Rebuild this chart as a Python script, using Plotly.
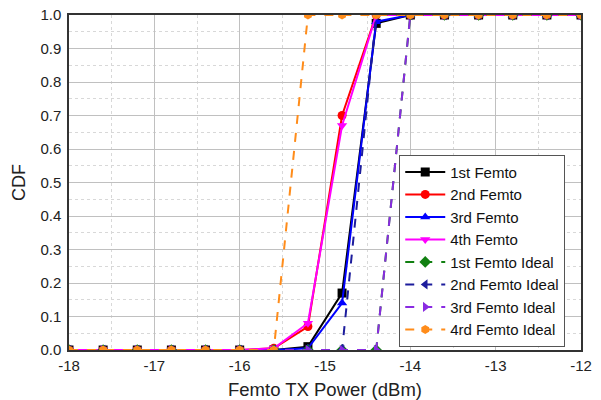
import plotly.graph_objects as go

x_power = [-18.0, -17.6, -17.2, -16.8, -16.4, -16.0, -15.6, -15.2, -14.8, -14.4,
           -14.0, -13.6, -13.2, -12.8, -12.4, -12.0]

femto1 = [0, 0, 0, 0, 0, 0, 0, 0.01, 0.17, 0.975, 1, 1, 1, 1, 1, 1]
femto2 = [0, 0, 0, 0, 0, 0, 0.005, 0.07, 0.70, 1, 1, 1, 1, 1, 1, 1]
femto3 = [0, 0, 0, 0, 0, 0, 0, 0.005, 0.14, 0.98, 1, 1, 1, 1, 1, 1]
femto4 = [0, 0, 0, 0, 0, 0, 0.005, 0.08, 0.67, 1, 1, 1, 1, 1, 1, 1]
femto1_ideal = [0, 0, 0, 0, 0, 0, 0, 0, 0, 0, 1, 1, 1, 1, 1, 1]
femto2_ideal = [0, 0, 0, 0, 0, 0, 0, 0, 0, 1, 1, 1, 1, 1, 1, 1]
femto3_ideal = [0, 0, 0, 0, 0, 0, 0, 0, 0, 0, 1, 1, 1, 1, 1, 1]
femto4_ideal = [0, 0, 0, 0, 0, 0, 0, 1, 1, 1, 1, 1, 1, 1, 1, 1]

x_tickvals = [-18, -17, -16, -15, -14, -13, -12]
x_ticktext = ["-18", "-17", "-16", "-15", "-14", "-13", "-12"]

series = [
    ("1st Femto", femto1, "#000000", "square", "solid"),
    ("2nd Femto", femto2, "#ff0000", "circle", "solid"),
    ("3rd Femto", femto3, "#0000ff", "triangle-up", "solid"),
    ("4th Femto", femto4, "#ff00ff", "triangle-down", "solid"),
    ("1st Femto Ideal", femto1_ideal, "#118011", "diamond", "dash"),
    ("2nd Femto Ideal", femto2_ideal, "#1c1c9c", "triangle-left", "dash"),
    ("3rd Femto Ideal", femto3_ideal, "#8a2be2", "triangle-right", "dash"),
    ("4rd Femto Ideal", femto4_ideal, "#ff8c1a", "hexagon", "dash"),
]

fig = go.Figure()
for name, vals, color, sym, dash in series:
    fig.add_trace(go.Scatter(
        x=x_power, y=vals, name=name, mode="lines+markers",
        line=dict(color=color, width=2, dash=dash),
        marker=dict(symbol=sym, size=9, color=color),
    ))

FONT = "Arial, Liberation Sans, sans-serif"
axis_common = dict(
    showline=True, linecolor="#333333", linewidth=1.5, mirror=True,
    gridcolor="#c0c0c0", gridwidth=1, zeroline=False,
    tickfont=dict(family=FONT, size=15, color="#222222"),
    ticks="", automargin=False,
)

fig.update_xaxes(range=[-18, -12], tickvals=x_tickvals, ticktext=x_ticktext,
                 ticklabelstandoff=1,
                 minor=dict(dtick=0.5, showgrid=True, griddash="dot", gridcolor="#d8d8d8"),
                 title=dict(text="Femto TX Power (dBm)", standoff=15,
                            font=dict(family=FONT, size=18.5, color="#222222")),
                 **axis_common)
fig.update_yaxes(range=[0, 1], dtick=0.1, tickformat=".1f",
                 ticklabelstandoff=3,
                 minor=dict(dtick=0.05, showgrid=True, griddash="dot", gridcolor="#d8d8d8"),
                 title=dict(text="CDF", standoff=10,
                            font=dict(family=FONT, size=18, color="#222222")),
                 **axis_common)

fig.update_layout(
    width=601, height=400,
    margin=dict(l=69, r=20, t=15, b=50),
    plot_bgcolor="white", paper_bgcolor="white",
    showlegend=True,
    legend=dict(x=0.645, y=0.01, xanchor="left", yanchor="bottom",
                bgcolor="white", bordercolor="#555555", borderwidth=1,
                font=dict(family=FONT, size=15, color="#111111"),
                itemwidth=40, tracegroupgap=0),
)

fig.write_html("out.html")
